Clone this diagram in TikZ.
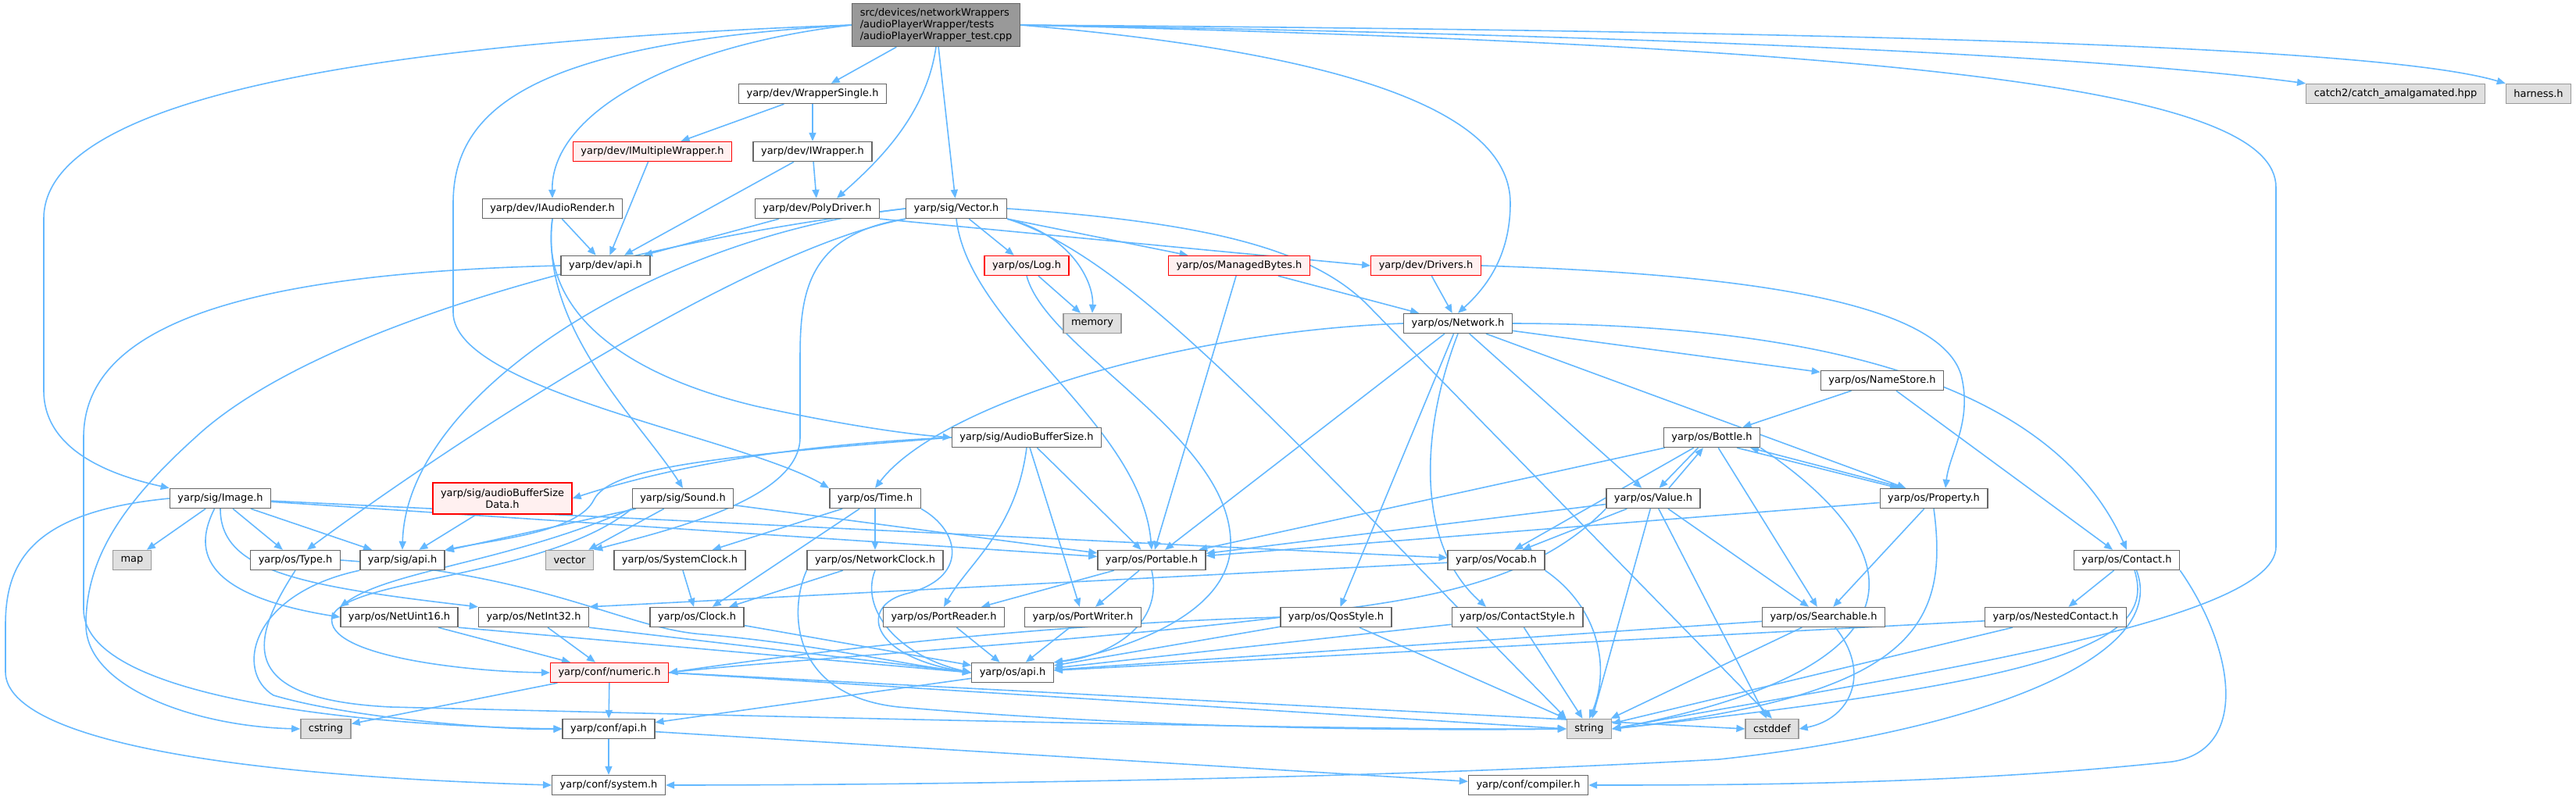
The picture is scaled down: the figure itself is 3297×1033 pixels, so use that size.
\documentclass[tikz,border=0pt]{standalone}
\usepackage{fontspec}
\setmainfont{DejaVu Sans}
\usetikzlibrary{arrows.meta}

\definecolor{edgeblue}{HTML}{63B8FF}
\definecolor{boxline}{HTML}{666666}
\definecolor{rootfill}{HTML}{999999}
\definecolor{sysfill}{HTML}{E0E0E0}
\definecolor{sysline}{HTML}{999999}
\definecolor{cutfill}{HTML}{FFF0F0}
\definecolor{cutline}{HTML}{FF0000}

\pgfdeclarelayer{background}
\pgfsetlayers{background,main}

\tikzset{
    file/.style={draw=boxline, fill=white, line width=0.8pt, minimum height=0.5cm,
        inner xsep=0.2cm, inner ysep=0pt, font=\fontsize{7.36}{8.6}\selectfont},
    sysfile/.style={file, draw=sysline, fill=sysfill},
    cutfile/.style={file, draw=cutline, fill=cutfill},
    rootfile/.style={file, fill=rootfill, align=left, minimum height=1.1cm},
    dep/.style={draw=edgeblue, line width=0.9pt, -{Triangle[length=0.22cm,width=0.18cm]}},
}

\begin{document}
\begin{tikzpicture}[x=0.02cm, y=-0.02cm]
    \useasboundingbox (0,0) rectangle (3297,1033);

    % Files, row by row
    \node[rootfile] (root) at (1198,32) {src/devices/networkWrappers\\/audioPlayerWrapper/tests\\/audioPlayerWrapper\_test.cpp};

    \node[file] (wsingle) at (1040,120) {yarp/dev/WrapperSingle.h};
    \node[sysfile] (catchhpp) at (3066,120) {catch2/catch\_amalgamated.hpp};
    \node[sysfile] (harness) at (3249,120) {harness.h};

    \node[cutfile] (imulti) at (835,194) {yarp/dev/IMultipleWrapper.h};
    \node[file] (iwrapper) at (1040,194) {yarp/dev/IWrapper.h};

    \node[file] (iaudio) at (707,267) {yarp/dev/IAudioRender.h};
    \node[file] (polydrv) at (1046,267) {yarp/dev/PolyDriver.h};
    \node[file] (sigvec) at (1224,267) {yarp/sig/Vector.h};

    \node[file] (devapi) at (775,340) {yarp/dev/api.h};
    \node[cutfile] (oslog) at (1314,340) {yarp/os/Log.h};
    \node[cutfile] (mbytes) at (1586,340) {yarp/os/ManagedBytes.h};
    \node[cutfile] (drivers) at (1825,340) {yarp/dev/Drivers.h};

    \node[sysfile] (memory) at (1398,414) {memory};
    \node[file] (network) at (1866,414) {yarp/os/Network.h};

    \node[file] (namestore) at (2409,487) {yarp/os/NameStore.h};

    \node[file] (abufsize) at (1314,560) {yarp/sig/AudioBufferSize.h};
    \node[file] (bottle) at (2191,560) {yarp/os/Bottle.h};

    \node[file] (sigimage) at (282,638) {yarp/sig/Image.h};
    \node[cutfile, align=center, minimum height=0.8cm] (abufdata) at (643,638) {yarp/sig/audioBufferSize\\Data.h};
    \node[file] (sound) at (874,638) {yarp/sig/Sound.h};
    \node[file] (ostime) at (1120,638) {yarp/os/Time.h};
    \node[file] (value) at (2116,638) {yarp/os/Value.h};
    \node[file] (property) at (2475,638) {yarp/os/Property.h};

    \node[sysfile] (map) at (169,717) {map};
    \node[file] (ostype) at (378,717) {yarp/os/Type.h};
    \node[file] (sigapi) at (515,717) {yarp/sig/api.h};
    \node[sysfile] (vector) at (729,717) {vector};
    \node[file] (sysclock) at (870,717) {yarp/os/SystemClock.h};
    \node[file] (netclock) at (1120,717) {yarp/os/NetworkClock.h};
    \node[file] (portable) at (1474,717) {yarp/os/Portable.h};
    \node[file] (vocab) at (1915,717) {yarp/os/Vocab.h};
    \node[file] (contact) at (2722,717) {yarp/os/Contact.h};

    \node[file] (netu16) at (511,790) {yarp/os/NetUint16.h};
    \node[file] (neti32) at (683,790) {yarp/os/NetInt32.h};
    \node[file] (clock) at (892,790) {yarp/os/Clock.h};
    \node[file] (preader) at (1208,790) {yarp/os/PortReader.h};
    \node[file] (pwriter) at (1386,790) {yarp/os/PortWriter.h};
    \node[file] (qos) at (1710,790) {yarp/os/QosStyle.h};
    \node[file] (cstyle) at (1942,790) {yarp/os/ContactStyle.h};
    \node[file] (search) at (2334,790) {yarp/os/Searchable.h};
    \node[file] (nested) at (2631,790) {yarp/os/NestedContact.h};

    \node[cutfile] (numeric) at (780,861) {yarp/conf/numeric.h};
    \node[file] (osapi) at (1296,861) {yarp/os/api.h};

    \node[sysfile] (cstring) at (417,933) {cstring};
    \node[file] (confapi) at (779,933) {yarp/conf/api.h};
    \node[sysfile] (string) at (2034,933) {string};
    \node[sysfile] (cstddef) at (2268,933) {cstddef};

    \node[file] (system) at (779,1005) {yarp/conf/system.h};
    \node[file] (compiler) at (1956,1005) {yarp/conf/compiler.h};

    \begin{pgfonlayer}{background}
    \fill[white] (0,0) rectangle (3297,1033);

    % Includes of the test file
    \draw[dep] (root) -- (wsingle);
    \draw[dep] (root.east) .. controls (2300,48) and (2750,80) .. (catchhpp.north west);
    \draw[dep] (root.east) .. controls (2400,40) and (3050,60) .. (harness.north west);
    \draw[dep] (root.east) .. controls (2500,60) and (2913,120) .. (2913,240) -- (2913,700) .. controls (2913,800) and (2400,870) .. (string.east);
    \draw[dep] (root.east) .. controls (1750,70) and (1933,150) .. (1933,260) .. controls (1933,330) and (1900,370) .. (network.north);
    \draw[dep] (root) -- (sigvec);
    \draw[dep] (root.south) .. controls (1185,150) and (1120,210) .. ([xshift=0.5cm]polydrv.north);
    \draw[dep] (root.west) .. controls (850,60) and (705,150) .. (iaudio.north);
    \draw[dep] (root.west) .. controls (700,55) and (580,130) .. (580,260) -- (580,400) .. controls (580,500) and (950,560) .. (ostime.north west);
    \draw[dep] (root.west) .. controls (450,55) and (56,130) .. (56,280) -- (56,500) .. controls (56,580) and (150,610) .. (sigimage.north west);

    % yarp/dev
    \draw[dep] (wsingle) -- (imulti);
    \draw[dep] (wsingle) -- (iwrapper);
    \draw[dep] (imulti) -- (devapi);
    \draw[dep] (iwrapper) -- (devapi);
    \draw[dep] (iwrapper) -- (polydrv);
    \draw[dep] (iaudio) -- (devapi);
    \draw[dep] (polydrv) -- (devapi);
    \draw[dep] (polydrv.south east) -- (drivers.west);
    \draw[dep] (iaudio.south) .. controls (690,420) and (820,540) .. (sound.north);
    \draw[dep] (iaudio.south) .. controls (690,400) and (800,480) .. (968,520) .. controls (1060,540) and (1150,555) .. (abufsize.west);
    \draw[dep] (devapi.west) .. controls (300,350) and (107,420) .. (107,560) -- (107,780) .. controls (107,900) and (500,930) .. (confapi.west);

    % yarp/sig/Vector.h
    \draw[dep] (sigvec) -- (oslog);
    \draw[dep] (sigvec) -- (mbytes);
    \draw[dep] (sigvec.south east) .. controls (1370,300) and (1400,360) .. (memory.north);
    \draw[dep] (sigvec.south) .. controls (1240,420) and (1460,540) .. (portable.north);
    \draw[dep] (sigvec.south east) .. controls (1450,330) and (1650,560) .. (string.north west);
    \draw[dep] (sigvec.east) .. controls (1550,285) and (1680,320) .. (1750,390) -- (cstddef.north);
    \draw[dep] (sigvec.south west) .. controls (950,320) and (560,580) .. ([xshift=0.3cm]ostype.north);
    \draw[dep] (sigvec.west) .. controls (850,300) and (520,500) .. (sigapi.north);
    \draw[dep] (sigvec.south west) .. controls (1030,300) and (1024,380) .. (1024,460) -- (1024,560) .. controls (1024,640) and (850,680) .. (vector.north east);
    \draw[dep] (sigvec.west) .. controls (800,310) and (400,420) .. (250,560) .. controls (150,650) and (110,720) .. (110,800) .. controls (110,880) and (250,930) .. (cstring.west);

    % Log, ManagedBytes, Drivers
    \draw[dep] (oslog) -- (memory);
    \draw[dep] (oslog.south) .. controls (1340,450) and (1580,560) .. (1575,700) .. controls (1570,800) and (1400,840) .. (osapi.north east);
    \draw[dep] (mbytes) -- (network);
    \draw[dep] (mbytes) -- (portable);
    \draw[dep] (drivers) -- (network);
    \draw[dep] (drivers.east) .. controls (2200,350) and (2480,380) .. (2510,480) .. controls (2525,540) and (2495,580) .. ([xshift=0.3cm]property.north);

    % yarp/os/Network.h
    \draw[dep] (network) -- (namestore);
    \draw[dep] (network.east) .. controls (2400,415) and (2640,520) .. (contact.north);
    \draw[dep] (network) -- (property);
    \draw[dep] (network) -- (value);
    \draw[dep] (network.west) .. controls (1500,425) and (1200,520) .. (ostime.north);
    \draw[dep] (network) -- (portable);
    \draw[dep] (network) -- (qos);
    \draw[dep] (network.south) .. controls (1815,560) and (1815,700) .. ([xshift=-0.8cm]cstyle.north);

    % NameStore, AudioBufferSize
    \draw[dep] (namestore) -- (bottle);
    \draw[dep] (namestore) -- (contact);
    \draw[dep] (abufsize.west) .. controls (1000,570) and (850,600) .. (abufdata.east);
    \draw[dep] (abufsize.west) .. controls (900,585) and (780,600) .. (760,640) .. controls (740,680) and (640,690) .. (sigapi.north east);
    \draw[dep] (abufsize) -- (portable);
    \draw[dep] (abufsize.south) .. controls (1300,680) and (1240,720) .. (preader.north);
    \draw[dep] (abufsize) -- (pwriter);

    % Bottle, Value, Property
    \draw[dep] ([xshift=-0.35cm]bottle.south) -- ([xshift=0.15cm]value.north);
    \draw[dep] ([xshift=0.4cm]value.north) -- ([xshift=-0.22cm]bottle.south);
    \draw[dep] ([xshift=0.64cm]bottle.south) -- ([xshift=-0.9cm]property.north);
    \draw[dep] ([xshift=-0.74cm]property.north) -- ([xshift=0.98cm]bottle.south);
    \draw[dep] (bottle) -- (search);
    \draw[dep] (bottle) -- (portable);
    \draw[dep] (bottle) -- (vocab);
    \draw[dep] (bottle.south east) .. controls (2470,720) and (2450,860) .. (string.east);
    \draw[dep] (value) -- (portable);
    \draw[dep] (value) -- (vocab);
    \draw[dep] (value) -- (search);
    \draw[dep] (value) -- (string);
    \draw[dep] (value) -- (cstddef);
    \draw[dep] (value.south west) .. controls (1950,760) and (1780,770) .. (1640,790) .. controls (1400,820) and (1000,845) .. (numeric.east);
    \draw[dep] (property) -- (portable);
    \draw[dep] (property) -- (search);
    \draw[dep] (property.south) .. controls (2495,800) and (2450,890) .. (string.east);

    % yarp/sig
    \draw[dep] (sigimage) -- (map);
    \draw[dep] (sigimage) -- (ostype);
    \draw[dep] (sigimage) -- (sigapi);
    \draw[dep] ([xshift=-0.15cm]sigimage.south) .. controls (250,700) and (250,760) .. (netu16.west);
    \draw[dep] (sigimage.south) .. controls (282,730) and (380,750) .. (neti32.north west);
    \draw[dep] (sigimage) -- (portable);
    \draw[dep] (sigimage) -- (vocab);
    \draw[dep] (sigimage.west) .. controls (40,655) and (7,720) .. (7,800) -- (7,860) .. controls (7,930) and (200,990) .. (system.west);
    \draw[dep] (abufdata) -- (sigapi);
    \draw[dep] (sound) -- (sigapi);
    \draw[dep] (sound) -- (vector);
    \draw[dep] (sound) -- (portable);
    \draw[dep] (sound.south west) .. controls (650,720) and (500,730) .. (netu16.north west);
    \draw[dep] (sound.south west) .. controls (700,740) and (440,740) .. (425,790) .. controls (415,840) and (600,860) .. (numeric.west);
    \draw[dep] (sigapi.south west) .. controls (320,760) and (300,860) .. (350,890) .. controls (450,920) and (650,935) .. (confapi.west);

    % Time and clocks
    \draw[dep] (ostime) -- (sysclock);
    \draw[dep] (ostime) -- (netclock);
    \draw[dep] (ostime) -- (clock);
    \draw[dep] (ostime.south east) .. controls (1230,680) and (1240,740) .. (1160,760) .. controls (1100,775) and (1110,840) .. (osapi.west);
    \draw[dep] (sysclock) -- (clock);
    \draw[dep] (netclock) -- (clock);
    \draw[dep] (netclock.south) .. controls (1100,780) and (1150,840) .. (osapi.west);
    \draw[dep] (netclock.south west) .. controls (1010,780) and (1010,890) .. (1150,905) .. controls (1500,935) and (1850,935) .. (string.west);
    \draw[dep] (clock) -- (osapi);

    % Type, Portable
    \draw[dep] (ostype.east) .. controls (700,735) and (800,805) .. (900,812) .. controls (1050,825) and (1150,850) .. (osapi.west);
    \draw[dep] (ostype.south) .. controls (320,820) and (300,895) .. (500,905) .. controls (900,915) and (1700,935) .. (string.west);
    \draw[dep] (portable) -- (preader);
    \draw[dep] (portable) -- (pwriter);
    \draw[dep] (portable.south) .. controls (1490,800) and (1420,840) .. (osapi.north east);
    \draw[dep] (preader) -- (osapi);
    \draw[dep] (pwriter) -- (osapi);

    % Styles, Vocab, Searchable, Contact
    \draw[dep] (qos) -- (osapi);
    \draw[dep] (qos.west) .. controls (1300,800) and (1000,840) .. (numeric.east);
    \draw[dep] (qos) -- (string);
    \draw[dep] (cstyle) -- (osapi);
    \draw[dep] (cstyle) -- (string);
    \draw[dep] (vocab) -- (neti32.north east);
    \draw[dep] (vocab.south east) .. controls (2050,780) and (2060,860) .. (string.north);
    \draw[dep] (search) -- (osapi);
    \draw[dep] (search) -- (string);
    \draw[dep] ([xshift=0.3cm]search.south) .. controls (2395,860) and (2370,920) .. (cstddef.east);
    \draw[dep] (nested) -- (osapi);
    \draw[dep] (nested) -- (string);
    \draw[dep] (contact) -- (nested);
    \draw[dep] ([xshift=0.2cm]contact.south) .. controls (2760,820) and (2650,870) .. (string.east);
    \draw[dep] ([xshift=0.25cm]contact.south) .. controls (2780,850) and (2500,940) .. (2200,972) .. controls (1700,1000) and (1100,1005) .. (system.east);
    \draw[dep] (contact.south east) .. controls (2860,830) and (2880,960) .. (2780,975) .. controls (2500,1005) and (2200,1005) .. (compiler.east);

    % Low level headers
    \draw[dep] (netu16) -- (numeric);
    \draw[dep] (netu16.south east) -- (osapi.west);
    \draw[dep] (neti32) -- (numeric);
    \draw[dep] (neti32.south east) -- (osapi.west);
    \draw[dep] (numeric) -- (confapi);
    \draw[dep] (numeric) -- (cstring);
    \draw[dep] (numeric.east) -- (string.west);
    \draw[dep] (numeric.east) -- (cstddef.west);
    \draw[dep] (osapi) -- (confapi);
    \draw[dep] (confapi) -- (system);
    \draw[dep] (confapi) -- (compiler);
    \end{pgfonlayer}
\end{tikzpicture}
\end{document}
